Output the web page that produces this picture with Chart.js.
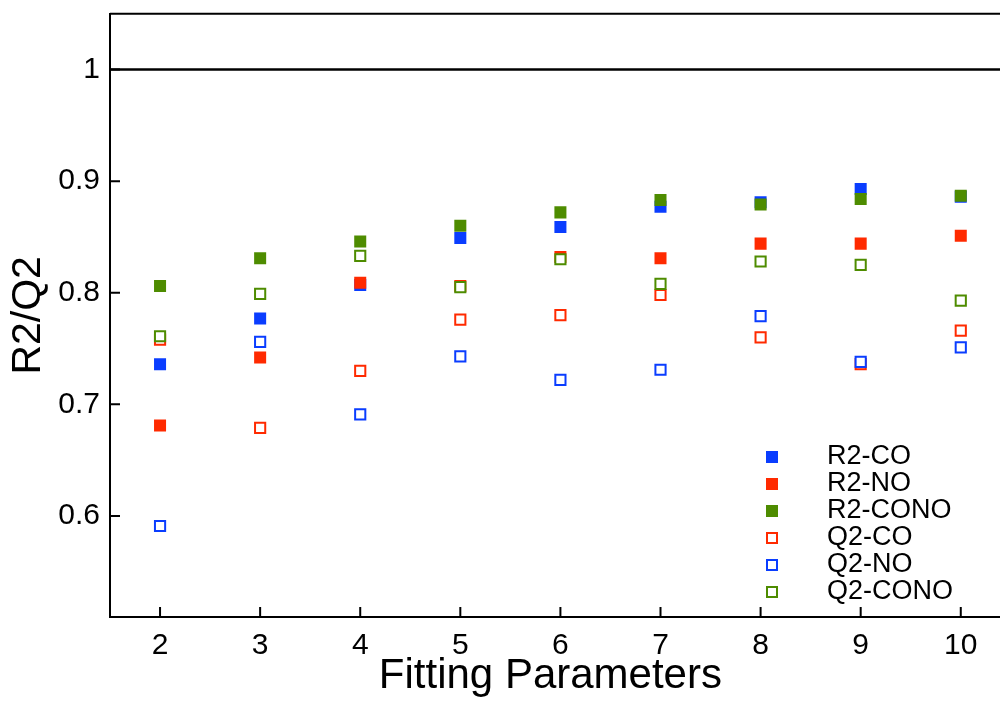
<!DOCTYPE html>
<html>
<head>
<meta charset="utf-8">
<script src="https://cdn.jsdelivr.net/npm/chart.js@4"></script>
<style>
  body { margin: 0; background: #fff; }
  #wrap { width: 1000px; height: 711px; }
</style>
</head>
<body>
<div id="wrap"><canvas id="fitChart" width="1000" height="711"></canvas></div>
<script>
// values
const params = [2, 3, 4, 5, 6, 7, 8, 9, 10];
const xTickLabels = ["2", "3", "4", "5", "6", "7", "8", "9", "10"];
const yTickValues = [0.6, 0.7, 0.8, 0.9, 1];
const yTickLabels = ["0.6", "0.7", "0.8", "0.9", "1"];

const r2CO   = [0.736, 0.777, 0.807, 0.849, 0.859, 0.877, 0.881, 0.893, 0.886];
const r2NO   = [0.681, 0.742, 0.809, 0.806, 0.832, 0.831, 0.844, 0.844, 0.851];
const r2CONO = [0.806, 0.831, 0.846, 0.860, 0.872, 0.883, 0.879, 0.884, 0.887];
const q2CO   = [0.758, 0.679, 0.730, 0.776, 0.780, 0.798, 0.760, 0.736, 0.766];
const q2NO   = [0.591, 0.756, 0.691, 0.743, 0.722, 0.731, 0.779, 0.738, 0.751];
const q2CONO = [0.761, 0.799, 0.833, 0.805, 0.830, 0.808, 0.828, 0.825, 0.793];

const FONT = "'Liberation Sans', Arial, Helvetica, sans-serif";
const BLUE = "#0a3dff";
const RED = "#ff2a00";
const GREEN = "#4e8c00";

function toPoints(vals) {
    return params.map((p, i) => ({ x: p, y: vals[i] }));
}

function filled(label, vals, color, order) {
    return {
        label: label,
        data: toPoints(vals),
        pointStyle: "rect",
        pointRadius: 8.5,
        pointHoverRadius: 8.5,
        backgroundColor: color,
        borderColor: color,
        borderWidth: 0,
        showLine: false,
        order: order,
        open: false
    };
}

function hollow(label, vals, color, order) {
    return {
        label: label,
        data: toPoints(vals),
        pointStyle: "rect",
        pointRadius: 7.2,
        pointHoverRadius: 7.2,
        backgroundColor: "#ffffff",
        borderColor: color,
        borderWidth: 2,
        showLine: false,
        order: order,
        open: true
    };
}

// inward ticks, frame lines running off the right edge, y = 1 line, legend
const framePlugin = {
    id: "frame",
    afterDraw(chart) {
        const ctx = chart.ctx;
        const area = chart.chartArea;
        const xs = chart.scales.x;
        const ys = chart.scales.y;
        const right = chart.width;
        ctx.save();
        ctx.strokeStyle = "#000";
        ctx.lineWidth = 2;
        ctx.beginPath();
        ctx.moveTo(area.left, area.top);
        ctx.lineTo(right, area.top);
        ctx.moveTo(area.left, area.bottom);
        ctx.lineTo(right, area.bottom);
        params.forEach(p => {
            const px = xs.getPixelForValue(p);
            ctx.moveTo(px, area.bottom);
            ctx.lineTo(px, area.bottom - 10);
        });
        yTickValues.forEach(v => {
            const py = ys.getPixelForValue(v);
            ctx.moveTo(area.left, py);
            ctx.lineTo(area.left + 10, py);
        });
        ctx.stroke();

        ctx.lineWidth = 2.5;
        ctx.beginPath();
        const y1 = ys.getPixelForValue(1);
        ctx.moveTo(area.left, y1);
        ctx.lineTo(right, y1);
        ctx.stroke();

        // legend
        const lx = 772, ly = 457, step = 27;
        ctx.font = "27px " + FONT;
        ctx.textBaseline = "middle";
        ctx.textAlign = "left";
        chart.data.datasets.forEach((ds, i) => {
            const y = ly + i * step;
            if (ds.open) {
                ctx.fillStyle = "#fff";
                ctx.strokeStyle = ds.borderColor;
                ctx.lineWidth = 2;
                ctx.fillRect(lx - 5, y - 5, 10, 10);
                ctx.strokeRect(lx - 5, y - 5, 10, 10);
            } else {
                ctx.fillStyle = ds.backgroundColor;
                ctx.fillRect(lx - 6, y - 6, 12, 12);
            }
            ctx.fillStyle = "#000";
            ctx.fillText(ds.label, 827, y);
        });
        ctx.restore();
    }
};

const ctx = document.getElementById("fitChart").getContext("2d");
new Chart(ctx, {
    type: "scatter",
    data: {
        datasets: [
            filled("R2-CO", r2CO, BLUE, 6),
            filled("R2-NO", r2NO, RED, 5),
            filled("R2-CONO", r2CONO, GREEN, 4),
            hollow("Q2-CO", q2CO, RED, 3),
            hollow("Q2-NO", q2NO, BLUE, 2),
            hollow("Q2-CONO", q2CONO, GREEN, 1)
        ]
    },
    options: {
        responsive: false,
        animation: false,
        devicePixelRatio: 1,
        layout: { padding: 0 },
        plugins: {
            legend: { display: false },
            tooltip: { enabled: false }
        },
        scales: {
            x: {
                type: "linear",
                min: 1.5,
                max: 10.3,
                afterFit: s => { s.height = 94; s.paddingLeft = 0; s.paddingRight = 0; },
                afterBuildTicks: s => { s.ticks = params.map(v => ({ value: v })); },
                grid: { drawOnChartArea: false, drawTicks: false },
                border: { display: false },
                ticks: {
                    color: "#000",
                    padding: 11,
                    maxRotation: 0,
                    font: { size: 30, family: FONT },
                    callback: (v) => xTickLabels[params.indexOf(v)]
                },
                title: {
                    display: true,
                    text: "Fitting Parameters",
                    color: "#000",
                    font: { size: 42, family: FONT },
                    padding: { top: 0, bottom: 9 }
                }
            },
            y: {
                type: "linear",
                min: 0.5095,
                max: 1.05,
                afterFit: s => { s.width = 110; s.paddingTop = 13.7; s.paddingBottom = 0; },
                afterBuildTicks: s => { s.ticks = yTickValues.map(v => ({ value: v })); },
                grid: { drawOnChartArea: false, drawTicks: false },
                border: { display: true, color: "#000", width: 2 },
                ticks: {
                    color: "#000",
                    padding: 10,
                    font: { size: 30, family: FONT },
                    callback: (v) => yTickLabels[yTickValues.indexOf(v)]
                },
                title: {
                    display: true,
                    text: "R2/Q2",
                    color: "#000",
                    font: { size: 41, family: FONT },
                    padding: { top: 4, bottom: 0 }
                }
            }
        }
    },
    plugins: [framePlugin]
});
</script>
</body>
</html>
